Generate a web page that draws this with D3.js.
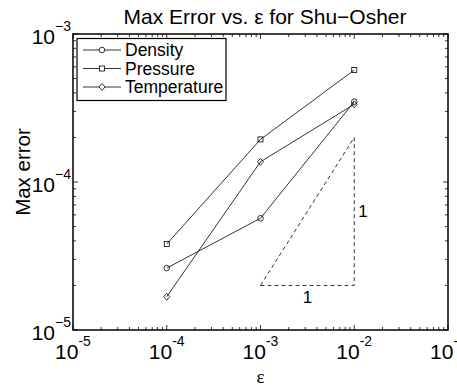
<!DOCTYPE html>
<html>
<head>
<meta charset="utf-8">
<script src="https://cdn.jsdelivr.net/npm/d3@7"></script>
<style>
  body { margin: 0; background: #fff; }
  svg { font-family: "Liberation Sans", Arial, Helvetica, sans-serif; }
</style>
</head>
<body>
<svg id="chart" width="457" height="389"></svg>
<script>
// values
const eps = [1e-4, 1e-3, 1e-2];
const density = [2.62e-5, 5.69e-5, 3.49e-4];
const pressure = [3.81e-5, 1.94e-4, 5.71e-4];
const temperature = [1.68e-5, 1.37e-4, 3.35e-4];
const seriesNames = ['Density', 'Pressure', 'Temperature'];
const seriesMarkers = ['circle', 'square', 'diamond'];
const slopeX = [1e-3, 1e-2, 1e-2];
const slopeY = [2e-5, 2e-5, 2e-4];
const xTickExp = [-5, -4, -3, -2, -1];
const yTickExp = [-5, -4, -3];

const svg = d3.select('#chart');
const margin = { left: 73, right: 9, top: 34, bottom: 59 };
const width = +svg.attr('width'), height = +svg.attr('height');

const x = d3.scaleLog().domain([1e-5, 1e-1]).range([margin.left, width - margin.right]);
const y = d3.scaleLog().domain([1e-5, 1e-3]).range([height - margin.bottom, margin.top]);

const isMajor = v => Math.abs(Math.log10(v) - Math.round(Math.log10(v))) < 1e-9;

// ticks on all four sides, pointing in
const g = svg.append('g').attr('stroke', '#000').attr('stroke-width', 0.8);
x.ticks().forEach(v => {
  const len = isMajor(v) ? 5 : 3;
  g.append('line').attr('x1', x(v)).attr('x2', x(v)).attr('y1', y.range()[0]).attr('y2', y.range()[0] - len);
  g.append('line').attr('x1', x(v)).attr('x2', x(v)).attr('y1', y.range()[1]).attr('y2', y.range()[1] + len);
});
y.ticks().forEach(v => {
  const len = isMajor(v) ? 5 : 3;
  g.append('line').attr('y1', y(v)).attr('y2', y(v)).attr('x1', x.range()[0]).attr('x2', x.range()[0] + len);
  g.append('line').attr('y1', y(v)).attr('y2', y(v)).attr('x1', x.range()[1]).attr('x2', x.range()[1] - len);
});

// box
svg.append('rect')
  .attr('x', x.range()[0]).attr('y', y.range()[1])
  .attr('width', x.range()[1] - x.range()[0]).attr('height', y.range()[0] - y.range()[1])
  .attr('fill', 'none').attr('stroke', '#000').attr('stroke-width', 1.5);

// tick labels
xTickExp.forEach(e => {
  const t = svg.append('text').attr('x', x(Math.pow(10, e))).attr('y', 359)
    .attr('text-anchor', 'middle').attr('font-size', 21);
  t.append('tspan').text('10');
  t.append('tspan').attr('dy', -13).attr('font-size', 14).text('-' + Math.abs(e));
});
yTickExp.forEach(e => {
  const t = svg.append('text').attr('x', 71).attr('y', y(Math.pow(10, e)) + 10)
    .attr('text-anchor', 'end').attr('font-size', 21);
  t.append('tspan').text('10');
  t.append('tspan').attr('dy', -13).attr('font-size', 14).text('\u2212' + Math.abs(e));
});

// axis labels and title
svg.append('text').attr('x', x(1e-3)).attr('y', 383).attr('text-anchor', 'middle')
  .attr('font-size', 19).attr('font-family', '"Liberation Serif", serif').text('ε');
svg.append('text').attr('transform', 'translate(30,' + (y(1e-4) - 10) + ') rotate(-90)')
  .attr('text-anchor', 'middle').attr('font-size', 20.5).text('Max error');
svg.append('text').attr('x', 265).attr('y', 24).attr('text-anchor', 'middle')
  .attr('font-size', 21).text('Max Error vs. ε for Shu\u2212Osher');

// slope triangle
svg.append('path')
  .attr('d', d3.line().x((d, i) => x(slopeX[i % 3])).y((d, i) => y(slopeY[i % 3]))([0, 1, 2, 3]))
  .attr('fill', 'none').attr('stroke', '#000').attr('stroke-width', 0.8).attr('stroke-dasharray', '4,3');
svg.append('text').attr('x', x(Math.sqrt(slopeX[0] * slopeX[1]))).attr('y', y(slopeY[0]) + 18)
  .attr('text-anchor', 'middle').attr('font-size', 17).text('1');
svg.append('text').attr('x', x(slopeX[2]) + 4).attr('y', y(Math.sqrt(slopeY[1] * slopeY[2])) + 6)
  .attr('font-size', 17).text('1');

// markers
function marker(sel, type, cx, cy) {
  if (type === 'circle') {
    sel.append('circle').attr('cx', cx).attr('cy', cy).attr('r', 2.8);
  } else if (type === 'square') {
    sel.append('rect').attr('x', cx - 2.5).attr('y', cy - 2.5).attr('width', 5).attr('height', 5);
  } else {
    sel.append('path').attr('d', `M${cx},${cy - 3.5}L${cx + 3},${cy}L${cx},${cy + 3.5}L${cx - 3},${cy}Z`);
  }
}

const allSeries = [density, pressure, temperature];
const line = d3.line().x((d, i) => x(eps[i])).y(d => y(d));
allSeries.forEach((vals, k) => {
  svg.append('path').attr('d', line(vals)).attr('fill', 'none').attr('stroke', '#000').attr('stroke-width', 0.8);
  const mg = svg.append('g').attr('fill', 'none').attr('stroke', '#000').attr('stroke-width', 0.8);
  vals.forEach((v, i) => marker(mg, seriesMarkers[k], x(eps[i]), y(v)));
});

// legend
const leg = svg.append('g');
leg.append('rect').attr('x', 77).attr('y', 38.5).attr('width', 149).attr('height', 62)
  .attr('fill', '#fff').attr('stroke', '#000').attr('stroke-width', 1.2);
seriesNames.forEach((name, k) => {
  const ly = 50 + k * 18.5;
  leg.append('line').attr('x1', 83).attr('x2', 121).attr('y1', ly).attr('y2', ly)
    .attr('stroke', '#000').attr('stroke-width', 0.8);
  const mg = leg.append('g').attr('fill', '#fff').attr('stroke', '#000').attr('stroke-width', 0.8);
  marker(mg, seriesMarkers[k], 102, ly);
  leg.append('text').attr('x', 125).attr('y', ly + 6).attr('font-size', 17.5).text(name);
});
</script>
</body>
</html>
